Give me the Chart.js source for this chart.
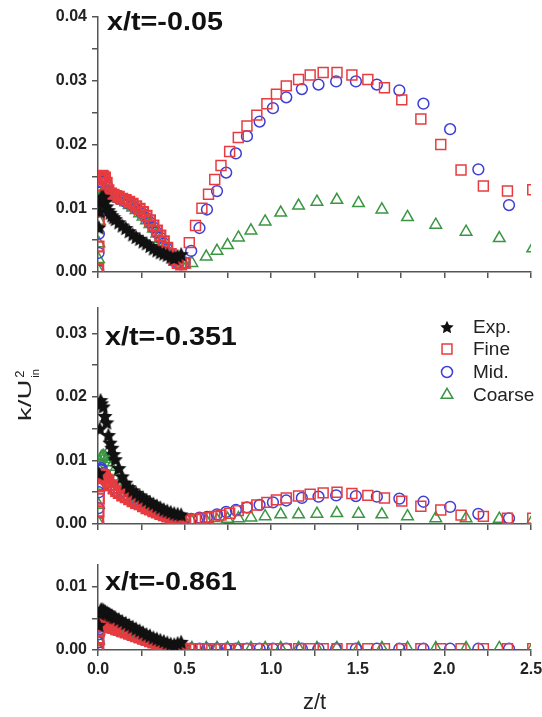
<!DOCTYPE html>
<html>
<head>
<meta charset="utf-8">
<script src="https://cdn.jsdelivr.net/npm/chart.js@4.4.1/dist/chart.umd.min.js"></script>
<style>
    html, body { margin: 0; padding: 0; background: #fff; }
    #wrap { position: relative; width: 542px; height: 717px; overflow: hidden; }
    #wrap canvas { position: absolute; left: 0; }
</style>
</head>
<body>
<div id="wrap">
    <canvas id="c1" width="542" height="290" style="top:0px"></canvas>
    <canvas id="c2" width="542" height="250" style="top:290px"></canvas>
    <canvas id="c3" width="542" height="177" style="top:540px"></canvas>
</div>
<script>
// z/t positions
const zWall = [0.001, 0.003, 0.005, 0.008, 0.012, 0.017, 0.023, 0.03, 0.04, 0.05, 0.06, 0.075, 0.09, 0.105, 0.12, 0.14, 0.16, 0.18, 0.2, 0.22, 0.24, 0.26, 0.28, 0.3, 0.32, 0.34, 0.36, 0.38, 0.4, 0.42, 0.44, 0.46, 0.48, 0.5];
const zExp = [0.005, 0.01, 0.015, 0.02, 0.03, 0.04, 0.05, 0.06, 0.07, 0.08, 0.09, 0.1, 0.12, 0.14, 0.16, 0.18, 0.2, 0.22, 0.24, 0.26, 0.28, 0.3, 0.32, 0.34, 0.36, 0.38, 0.4, 0.42, 0.44, 0.46, 0.48];
const zFine = [0.527, 0.563, 0.6, 0.638, 0.674, 0.71, 0.76, 0.81, 0.86, 0.917, 0.975, 1.03, 1.087, 1.158, 1.225, 1.3, 1.38, 1.466, 1.558, 1.654, 1.754, 1.864, 1.979, 2.096, 2.225, 2.364, 2.51];
const zMid = [0.538, 0.586, 0.629, 0.687, 0.74, 0.796, 0.86, 0.933, 1.01, 1.087, 1.177, 1.273, 1.375, 1.489, 1.61, 1.74, 1.879, 2.033, 2.196, 2.373];
const zCoarse = [0.542, 0.625, 0.687, 0.748, 0.811, 0.883, 0.965, 1.055, 1.158, 1.264, 1.379, 1.504, 1.639, 1.787, 1.95, 2.125, 2.317, 2.51];

// x/t = -0.05
const expK1 = [0.007, 0.0095, 0.011, 0.0118, 0.0118, 0.011, 0.0103, 0.0097, 0.0093, 0.0089, 0.0086, 0.0083, 0.0078, 0.0073, 0.0069, 0.0064, 0.0059, 0.0055, 0.0052, 0.0048, 0.0045, 0.0041, 0.0037, 0.0034, 0.0031, 0.0029, 0.0027, 0.0024, 0.0022, 0.0025, 0.0028];
const fineWall1 = [0.0005, 0.004, 0.008, 0.012, 0.0145, 0.015, 0.0151, 0.015, 0.0148, 0.014, 0.0128, 0.0123, 0.0121, 0.0119, 0.0118, 0.0115, 0.0113, 0.011, 0.0107, 0.0103, 0.0099, 0.0094, 0.0088, 0.0081, 0.0073, 0.0065, 0.0057, 0.0048, 0.0038, 0.0028, 0.0019, 0.0014, 0.0012, 0.0014];
const fineOut1 = [0.0046, 0.0073, 0.01, 0.0122, 0.0145, 0.0167, 0.0189, 0.0211, 0.0229, 0.0246, 0.0264, 0.0279, 0.0292, 0.0302, 0.0309, 0.0313, 0.0313, 0.0309, 0.0302, 0.0289, 0.027, 0.024, 0.02, 0.016, 0.0135, 0.0127, 0.0129];
const midWall1 = [0.0003, 0.003, 0.006, 0.0095, 0.0125, 0.0142, 0.0147, 0.0146, 0.0143, 0.0137, 0.0127, 0.0121, 0.0119, 0.0117, 0.0115, 0.0113, 0.011, 0.0107, 0.0104, 0.01, 0.0096, 0.0091, 0.0085, 0.0078, 0.007, 0.0062, 0.0054, 0.0045, 0.0036, 0.0027, 0.0019, 0.0014, 0.0012, 0.0015];
const midOut1 = [0.0033, 0.0069, 0.0098, 0.0127, 0.0156, 0.0186, 0.0213, 0.0236, 0.0257, 0.0274, 0.0287, 0.0294, 0.0299, 0.0299, 0.0294, 0.0285, 0.0264, 0.0224, 0.0161, 0.0105];
const coarseWall1 = [0.0003, 0.002, 0.0045, 0.008, 0.0105, 0.0118, 0.0124, 0.0126, 0.0127, 0.0127, 0.0125, 0.0122, 0.012, 0.0117, 0.0115, 0.0112, 0.0109, 0.0105, 0.0101, 0.0097, 0.0092, 0.0087, 0.0081, 0.0075, 0.0068, 0.006, 0.0052, 0.0044, 0.0035, 0.0027, 0.002, 0.0015, 0.0012, 0.0012];
const coarseOut1 = [0.0014, 0.0024, 0.0033, 0.0042, 0.0054, 0.0065, 0.0079, 0.0093, 0.0104, 0.011, 0.0113, 0.0108, 0.0098, 0.0086, 0.0074, 0.0063, 0.0053, 0.0037];

// x/t = -0.351
const expK2 = [0.008, 0.015, 0.0195, 0.019, 0.0185, 0.017, 0.016, 0.014, 0.0128, 0.012, 0.011, 0.0102, 0.0088, 0.0075, 0.0065, 0.0058, 0.0053, 0.0049, 0.0045, 0.0042, 0.0038, 0.0035, 0.0032, 0.0029, 0.0026, 0.0023, 0.0021, 0.0019, 0.0017, 0.0016, 0.0015];
const fineWall2 = [0.0003, 0.002, 0.004, 0.006, 0.0072, 0.0077, 0.0078, 0.0077, 0.0074, 0.007, 0.0066, 0.0061, 0.0056, 0.0052, 0.0049, 0.0045, 0.0042, 0.0039, 0.0036, 0.0033, 0.0031, 0.0028, 0.0025, 0.0023, 0.002, 0.0018, 0.0016, 0.0014, 0.0012, 0.001, 0.0008, 0.0007, 0.0006, 0.0006];
const fineOut2 = [0.0007, 0.0007, 0.0009, 0.001, 0.0012, 0.0014, 0.0017, 0.0021, 0.0026, 0.003, 0.0034, 0.0038, 0.0041, 0.0044, 0.0047, 0.0049, 0.005, 0.0048, 0.0045, 0.0041, 0.0036, 0.0028, 0.0022, 0.0014, 0.0012, 0.0009, 0.0009];
const midWall2 = [0.0003, 0.0025, 0.005, 0.0075, 0.0086, 0.0088, 0.0085, 0.008, 0.0076, 0.0071, 0.0067, 0.0062, 0.0057, 0.0053, 0.0049, 0.0045, 0.0042, 0.0039, 0.0036, 0.0033, 0.003, 0.0028, 0.0025, 0.0022, 0.002, 0.0018, 0.0016, 0.0014, 0.0012, 0.001, 0.0008, 0.0007, 0.0006, 0.0007];
const midOut2 = [0.0008, 0.001, 0.0011, 0.0015, 0.0019, 0.0022, 0.0026, 0.003, 0.0034, 0.0037, 0.0041, 0.0043, 0.0045, 0.0044, 0.0043, 0.004, 0.0035, 0.0027, 0.0016, 0.0009];
const coarseWall2 = [0.0003, 0.003, 0.006, 0.0085, 0.0098, 0.0104, 0.0106, 0.0107, 0.0106, 0.0102, 0.0097, 0.009, 0.0082, 0.0072, 0.0063, 0.0055, 0.0049, 0.0044, 0.004, 0.0036, 0.0033, 0.003, 0.0027, 0.0024, 0.0021, 0.0018, 0.0016, 0.0014, 0.0012, 0.001, 0.0008, 0.0006, 0.0005, 0.0005];
const coarseOut2 = [0.0004, 0.0005, 0.0006, 0.0008, 0.0009, 0.001, 0.0012, 0.0015, 0.0015, 0.0016, 0.0017, 0.0016, 0.0015, 0.0012, 0.0009, 0.0009, 0.0008, 0.0006];

// x/t = -0.861
const expK3 = [0.004, 0.0058, 0.0063, 0.0065, 0.0064, 0.0062, 0.006, 0.0058, 0.0056, 0.0055, 0.0053, 0.0052, 0.0049, 0.0046, 0.0043, 0.004, 0.0037, 0.0034, 0.0031, 0.0028, 0.0025, 0.0023, 0.002, 0.0018, 0.0016, 0.0014, 0.0012, 0.001, 0.0009, 0.0011, 0.0013];
const fineWall3 = [0.0003, 0.0015, 0.003, 0.0038, 0.0041, 0.0042, 0.0042, 0.0041, 0.004, 0.0039, 0.0038, 0.0036, 0.0035, 0.0033, 0.0032, 0.003, 0.0028, 0.0026, 0.0024, 0.0022, 0.002, 0.0018, 0.0016, 0.0014, 0.0012, 0.001, 0.0009, 0.0007, 0.0006, 0.0005, 0.0004, 0.0003, 0.0002, 0.0002];
const fineOut3 = [0.0002, 0.0002, 0.0002, 0.0002, 0.0002, 0.0002, 0.0002, 0.0002, 0.0002, 0.0002, 0.0002, 0.0002, 0.0002, 0.0002, 0.0002, 0.0002, 0.0002, 0.0002, 0.0002, 0.0002, 0.0002, 0.0002, 0.0002, 0.0002, 0.0002, 0.0002, 0.0002];
const midWall3 = [0.0003, 0.0012, 0.0025, 0.0033, 0.0037, 0.0039, 0.004, 0.0039, 0.0038, 0.0037, 0.0036, 0.0035, 0.0033, 0.0032, 0.003, 0.0029, 0.0027, 0.0025, 0.0023, 0.0021, 0.0019, 0.0017, 0.0015, 0.0013, 0.0012, 0.001, 0.0008, 0.0007, 0.0006, 0.0005, 0.0004, 0.0003, 0.0002, 0.0002];
const midOut3 = [0.0002, 0.0002, 0.0002, 0.0002, 0.0002, 0.0002, 0.0002, 0.0002, 0.0002, 0.0002, 0.0002, 0.0002, 0.0002, 0.0002, 0.0002, 0.0002, 0.0002, 0.0002, 0.0002, 0.0002];
const coarseWall3 = [0.0003, 0.0015, 0.003, 0.0038, 0.0042, 0.0043, 0.0043, 0.0042, 0.0041, 0.004, 0.0039, 0.0037, 0.0035, 0.0034, 0.0032, 0.003, 0.0028, 0.0026, 0.0024, 0.0022, 0.002, 0.0018, 0.0016, 0.0014, 0.0013, 0.0011, 0.0009, 0.0008, 0.0006, 0.0005, 0.0004, 0.0003, 0.0003, 0.0003];
const coarseOut3 = [0.0003, 0.0003, 0.0003, 0.0003, 0.0003, 0.0003, 0.0003, 0.0003, 0.0003, 0.0003, 0.0003, 0.0003, 0.0003, 0.0003, 0.0003, 0.0003, 0.0003, 0.0003];

const seriesNames = ["Exp.", "Fine", "Mid.", "Coarse"];
const panelTitles = ["x/t=-0.05", "x/t=-0.351", "x/t=-0.861"];

const FONT = "'Liberation Sans', Arial, sans-serif";
const AXIS = "#555";
const colors = {
    exp: "#111111",
    fine: "#e63c40",
    mid: "#3e3ed8",
    coarse: "#3a9642",
};

// filled five point star, used as an image point style
function makeStar(size, color) {
    const c = document.createElement("canvas");
    c.width = size;
    c.height = size;
    const g = c.getContext("2d");
    const R = size / 2;
    const r = R * 0.48;
    g.fillStyle = color;
    g.beginPath();
    for (let i = 0; i < 10; i++) {
        const a = -Math.PI / 2 + (i * Math.PI) / 5;
        const rad = i % 2 ? r : R;
        g.lineTo(R + rad * Math.cos(a), R * 1.1 + rad * Math.sin(a));
    }
    g.closePath();
    g.fill();
    return c;
}
const star = makeStar(16, colors.exp);
const starSmall = makeStar(14, colors.exp);

const pts = (zs, ks) => zs.map((z, i) => ({ x: z, y: ks[i] }));

// near-wall cells are packed tight in the original, so they read as a solid band
const wallWidth = (ctx) => (ctx.raw && ctx.raw.x <= 0.5 ? 2.2 : 1.5);

function makeDatasets(expK, fineW, fineO, midW, midO, coarseW, coarseO) {
    const common = {
        showLine: false,
        backgroundColor: "rgba(0,0,0,0)",
        pointBackgroundColor: "rgba(0,0,0,0)",
        pointBorderWidth: 1.5,
    };
    return [
        {
            ...common,
            label: seriesNames[0],
            data: pts(zExp, expK),
            pointStyle: star,
            pointRadius: 8,
            borderColor: colors.exp,
        },
        {
            ...common,
            label: seriesNames[1],
            data: pts(zWall, fineW).concat(pts(zFine, fineO)),
            pointStyle: "rect",
            pointRadius: 7,
            pointBorderWidth: wallWidth,
            borderColor: colors.fine,
            pointBorderColor: colors.fine,
        },
        {
            ...common,
            label: seriesNames[2],
            data: pts(zWall, midW).concat(pts(zMid, midO)),
            pointStyle: "circle",
            pointRadius: 5.4,
            borderColor: colors.mid,
            pointBorderColor: colors.mid,
        },
        {
            ...common,
            label: seriesNames[3],
            data: pts(zWall, coarseW).concat(pts(zCoarse, coarseO)),
            pointStyle: "triangle",
            pointRadius: 6.7,
            borderColor: colors.coarse,
            pointBorderColor: colors.coarse,
        },
    ];
}

// bold panel label, drawn a bit wide like the original
function titlePlugin(text, x, y) {
    return {
        id: "panelTitle",
        afterDraw(chart) {
            const ctx = chart.ctx;
            ctx.save();
            ctx.font = `bold 25px ${FONT}`;
            ctx.fillStyle = "#111";
            ctx.textBaseline = "alphabetic";
            ctx.translate(x, y);
            ctx.scale(1.15, 1);
            ctx.fillText(text, 0, 0);
            ctx.restore();
        },
    };
}

const legendPlugin = {
    id: "insideLegend",
    afterDraw(chart) {
        const ctx = chart.ctx;
        const rows = [37, 59, 82, 105];
        ctx.save();
        chart.data.datasets.forEach((ds, i) => {
            const y = rows[i];
            if (ds.pointStyle === star) {
                ctx.drawImage(starSmall, 447 - 7, y - 7);
            } else {
                ctx.strokeStyle = ds.borderColor;
                ctx.fillStyle = "rgba(0,0,0,0)";
                ctx.lineWidth = 1.5;
                Chart.helpers.drawPoint(ctx, {
                    pointStyle: ds.pointStyle,
                    radius: ds.pointStyle === "rect" ? 7 : ds.pointStyle === "circle" ? 5.5 : 6.7,
                    rotation: 0,
                    borderWidth: 1.5,
                }, 447, y);
            }
            ctx.font = `19px ${FONT}`;
            ctx.fillStyle = "#222";
            ctx.textBaseline = "middle";
            ctx.fillText(ds.label, 473, y + 1);
        });
        ctx.restore();
    },
};

// y axis title k/U^2_in, rotated
const yTitlePlugin = {
    id: "yTitle",
    afterDraw(chart) {
        const ctx = chart.ctx;
        ctx.save();
        ctx.fillStyle = "#222";
        ctx.translate(31, 131);
        ctx.rotate(-Math.PI / 2);
        ctx.save();
        ctx.scale(1.45, 1);
        ctx.font = `19px ${FONT}`;
        ctx.fillText("k/U", 0, 0);
        const w = ctx.measureText("k/U").width * 1.45;
        ctx.restore();
        ctx.font = `13px ${FONT}`;
        ctx.fillText("2", w + 2, -7);
        ctx.font = `11px ${FONT}`;
        ctx.fillText("in", w + 2, 8);
        ctx.restore();
    },
};

function makeOptions(yMax, showX, xHeight, padTop) {
    const tickFont = { family: FONT, size: 16, weight: "bold" };
    const grid = {
        display: true,
        drawOnChartArea: false,
        drawTicks: true,
        tickLength: 6,
        color: AXIS,
        lineWidth: 1.5,
    };
    const border = { display: true, color: AXIS, width: 1.5 };
    return {
        responsive: false,
        animation: false,
        events: [],
        layout: { padding: { left: 0, right: 11, top: padTop, bottom: 0 } },
        plugins: { legend: { display: false }, tooltip: { enabled: false } },
        scales: {
            x: {
                type: "linear",
                min: 0,
                max: 2.5,
                afterFit(s) {
                    s.height = xHeight;
                    s.paddingLeft = 0;
                    s.paddingRight = 0;
                },
                ticks: {
                    display: showX,
                    stepSize: 0.25,
                    autoSkip: false,
                    maxRotation: 0,
                    padding: 4,
                    font: tickFont,
                    color: "#222",
                    callback: (v) =>
                        Math.abs(v * 2 - Math.round(v * 2)) < 1e-6 ? v.toFixed(1) : "",
                },
                grid,
                border,
                title: {
                    display: showX,
                    text: "z/t",
                    color: "#222",
                    font: { family: FONT, size: 22 },
                    padding: { top: 4, bottom: 1 },
                },
            },
            y: {
                type: "linear",
                min: 0,
                max: yMax,
                afterFit(s) {
                    s.width = 98;
                    s.paddingTop = 0;
                    s.paddingBottom = 0;
                },
                ticks: {
                    stepSize: 0.005,
                    includeBounds: false,
                    padding: 5,
                    font: tickFont,
                    color: "#222",
                    callback: (v) =>
                        Math.abs(v * 100 - Math.round(v * 100)) < 1e-6 ? v.toFixed(2) : "",
                },
                grid,
                border,
            },
        },
    };
}

new Chart(document.getElementById("c1"), {
    type: "scatter",
    data: { datasets: makeDatasets(expK1, fineWall1, fineOut1, midWall1, midOut1, coarseWall1, coarseOut1) },
    options: makeOptions(0.04, false, 18, 17),
    plugins: [titlePlugin(panelTitles[0], 107, 30)],
});

new Chart(document.getElementById("c2"), {
    type: "scatter",
    data: { datasets: makeDatasets(expK2, fineWall2, fineOut2, midWall2, midOut2, coarseWall2, coarseOut2) },
    options: makeOptions(0.034, false, 16, 18),
    plugins: [titlePlugin(panelTitles[1], 105, 55), legendPlugin, yTitlePlugin],
});

new Chart(document.getElementById("c3"), {
    type: "scatter",
    data: { datasets: makeDatasets(expK3, fineWall3, fineOut3, midWall3, midOut3, coarseWall3, coarseOut3) },
    options: makeOptions(0.0135, true, 67, 25),
    plugins: [titlePlugin(panelTitles[2], 105, 50)],
});
</script>
</body>
</html>
